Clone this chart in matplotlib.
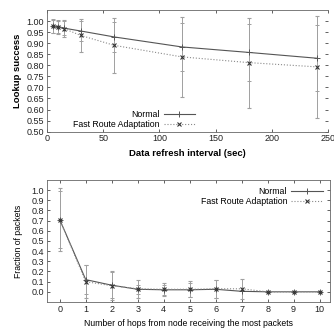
import matplotlib
matplotlib.use("Agg")
import matplotlib.pyplot as plt

plt.rcParams['font.family'] = ['Liberation Sans', 'DejaVu Sans']

# top panel: lookup success vs refresh interval
refresh = [5, 10, 15, 30, 60, 120, 180, 240]
normal_succ = [0.978, 0.975, 0.968, 0.955, 0.928, 0.883, 0.858, 0.832]
normal_succ_err = [0.03, 0.03, 0.03, 0.045, 0.068, 0.11, 0.13, 0.15]
fast_succ = [0.976, 0.972, 0.966, 0.935, 0.890, 0.838, 0.812, 0.793]
fast_succ_err = [0.03, 0.03, 0.04, 0.075, 0.125, 0.182, 0.203, 0.23]

# bottom panel: fraction of packets vs hops
hops = [0, 1, 2, 3, 4, 5, 6, 7, 8, 9, 10]
normal_frac = [0.71, 0.12, 0.065, 0.025, 0.02, 0.02, 0.025, 0.005, 0, 0, 0]
normal_frac_err = [0.28, 0.14, 0.13, 0.045, 0.05, 0.07, 0.09, 0.0, 0, 0, 0]
fast_frac = [0.71, 0.10, 0.06, 0.03, 0.025, 0.025, 0.03, 0.03, 0, 0, 0]
fast_frac_err = [0.31, 0.16, 0.14, 0.09, 0.065, 0.08, 0.09, 0.1, 0, 0, 0]

c_norm = '#555555'
c_fast = '#8a8a8a'
c_err = '#a0a0a0'

fig = plt.figure(figsize=(3.34, 3.29), dpi=100)
ax1 = fig.add_axes([0.1407, 0.5997, 0.841, 0.370])
ax2 = fig.add_axes([0.140, 0.0821, 0.848, 0.3708])


def style(ax, fs):
    ax.tick_params(direction='in', top=True, right=True, length=2.5,
                   width=0.5, labelsize=fs, pad=2, colors='#222222')
    for s in ax.spines.values():
        s.set_linewidth(0.6)
        s.set_color('#666666')


def right_legend(leg):
    # right-align label text like gnuplot's key
    leg._legend_box._children[-1]._children[0].align = "right"


def draw(ax, x, yn, en, yf, ef):
    n = ax.errorbar(x, yn, yerr=en, color=c_norm, lw=0.8,
                    marker='+', ms=4, mew=0.7, ecolor=c_err, elinewidth=0.7,
                    capsize=1.2, label='Normal')
    f = ax.errorbar(x, yf, yerr=ef, color=c_fast, lw=0.8,
                    ls=':', marker='x', ms=3, mew=0.8, mec='#333333', ecolor=c_err,
                    elinewidth=0.7, capsize=1.2, label='Fast Route Adaptation')
    return [n[0], f[0]]


h1 = draw(ax1, refresh, normal_succ, normal_succ_err, fast_succ, fast_succ_err)
ax1.set_xlim(0, 250)
ax1.set_ylim(0.5, 1.05)
ax1.set_xticks([0, 50, 100, 150, 200, 250])
ax1.set_yticks([0.5 + 0.05 * i for i in range(11)])
ax1.set_yticklabels(['%.2f' % (0.5 + 0.05 * i) for i in range(11)])
ax1.set_xlabel('Data refresh interval (sec)', fontsize=6.8, fontweight='bold', labelpad=4)
ax1.set_ylabel('Lookup success', fontsize=6.8, fontweight='bold', labelpad=3)
style(ax1, 6.5)
ax1.spines['right'].set_visible(False)
leg1 = ax1.legend(h1, ['Normal', 'Fast Route Adaptation'], loc='lower left',
                  bbox_to_anchor=(0.07, -0.03), frameon=False,
                  markerfirst=False, fontsize=6.3, handlelength=3.6,
                  handletextpad=0.5, labelspacing=0.15, borderpad=0.2)
right_legend(leg1)

h2 = draw(ax2, hops, normal_frac, normal_frac_err, fast_frac, fast_frac_err)
ax2.set_xlim(-0.5, 10.4)
ax2.set_ylim(-0.1, 1.1)
ax2.set_xticks(hops)
ax2.set_yticks([0.1 * i for i in range(11)])
ax2.set_yticklabels(['%.1f' % (0.1 * i) for i in range(11)])
ax2.set_xlabel('Number of hops from node receiving the most packets', fontsize=6.2, labelpad=4)
ax2.set_ylabel('Fraction of packets', fontsize=6.2, labelpad=6)
style(ax2, 6.5)
leg2 = ax2.legend(h2, ['Normal', 'Fast Route Adaptation'], loc='upper right',
                  bbox_to_anchor=(1.0, 1.0), frameon=False,
                  markerfirst=False, fontsize=6.3, handlelength=3.6,
                  handletextpad=0.5, labelspacing=0.15, borderpad=0.3)
right_legend(leg2)

fig.savefig('out.png', dpi=100)
